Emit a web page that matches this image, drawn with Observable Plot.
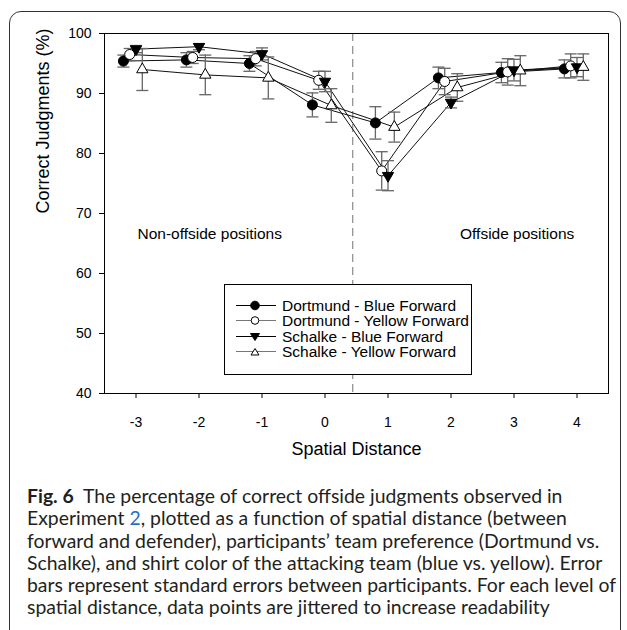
<!DOCTYPE html>
<html>
<head>
<meta charset="utf-8">
<script src="https://cdn.jsdelivr.net/npm/d3@7"></script>
<script src="https://cdn.jsdelivr.net/npm/@observablehq/plot@0.6"></script>
<style>
  body { margin: 0; background: #fff; }
  #wrap { position: relative; width: 627px; height: 630px; overflow: hidden; background: #fff; }
  #box { position: absolute; left: 9px; top: 11px; width: 610px; height: 700px; border: 1px solid #333; border-radius: 12px; }
  #chart { position: absolute; left: 0; top: 0; }
  #legend { position: absolute; left: 224px; top: 284px; width: 246px; height: 89px; border: 1px solid #000; background: #fff; font-family: "Liberation Sans", Arial, sans-serif; font-size: 15.5px; }
  .lrow { position: absolute; left: 10px; height: 15px; line-height: 15px; display: flex; align-items: center; white-space: nowrap; }
  .lrow svg { margin-right: 5px; }
  #caption { position: absolute; left: 27px; top: 485px; font-family: Lato, "Open Sans", sans-serif; font-size: 19.4px; line-height: 22.3px; color: #231f20; white-space: nowrap; }
  #caption b { font-weight: 700; }
  #caption a { color: #2a6ebb; text-decoration: none; }
</style>
</head>
<body>
<div id="wrap">
  <div id="box"></div>
  <div id="chart"></div>
  <div id="legend"></div>
  <div id="caption"></div>
</div>
<script>
// ---- data ----
const distances = [-3, -2, -1, 0, 1, 2, 3, 4];
const seriesNames = ["Dortmund - Blue Forward", "Dortmund - Yellow Forward", "Schalke - Blue Forward", "Schalke - Yellow Forward"];
const dortmundBlue   = [95.4, 95.6, 95.0, 88.1, 85.1, 92.6, 93.5, 94.1];
const dortmundYellow = [96.5, 96.0, 95.8, 92.2, 77.1, 92.0, 93.6, 94.6];
const schalkeBlue    = [97.4, 97.8, 96.6, 92.0, 76.3, 88.5, 93.9, 94.4];
const schalkeYellow  = [94.0, 93.1, 92.6, 88.0, 84.4, 91.0, 93.8, 94.4];
const dortmundBlueSE   = [1.0, 1.2, 1.3, 2.0, 2.7, 1.8, 1.7, 1.5];
const dortmundYellowSE = [1.0, 1.0, 1.2, 1.5, 3.2, 2.2, 2.2, 2.0];
const schalkeBlueSE    = [0.6, 0.5, 1.0, 1.7, 2.5, 0.9, 1.8, 1.6];
const schalkeYellowSE  = [3.5, 3.3, 3.5, 2.8, 2.5, 2.3, 2.5, 2.2];
const jitter = [-0.2, -0.1, 0, 0.1];
const xTicks = [-3, -2, -1, 0, 1, 2, 3, 4];
const yTicks = [40, 50, 60, 70, 80, 90, 100];
const dividerX = [0.44];
const regionLabels = ["Non-offside positions", "Offside positions"];
const regionX = [-1.83, 3.05];
const regionY = [66.5, 66.5];
const xLabel = "Spatial Distance";
const yLabel = "Correct Judgments (%)";

// ---- build table ----
const means = [dortmundBlue, dortmundYellow, schalkeBlue, schalkeYellow];
const ses = [dortmundBlueSE, dortmundYellowSE, schalkeBlueSE, schalkeYellowSE];
const rows = [];
seriesNames.forEach((name, s) => {
  distances.forEach((d, i) => {
    rows.push({series: name, s, x: d + jitter[s], y: means[s][i], lo: means[s][i] - ses[s][i], hi: means[s][i] + ses[s][i]});
  });
});
const regions = regionLabels.map((t, i) => ({t, x: regionX[i], y: regionY[i]}));

const capSymbol = {draw(ctx, size) { ctx.moveTo(-6, 0); ctx.lineTo(6, 0); }};
const styleOf = [
  {symbol: "circle", fill: "black", r: 5, rotate: 0},
  {symbol: "circle", fill: "white", r: 5, rotate: 0},
  {symbol: "triangle", fill: "black", r: 4.2, rotate: 180},
  {symbol: "triangle", fill: "white", r: 4.2, rotate: 0}
];

const marks = [
  Plot.ruleX(dividerX, {stroke: "#8a8a8a", strokeWidth: 1.2, strokeDasharray: "8,5"}),
  Plot.axisX({ticks: xTicks, tickSize: 5, tickPadding: 19, label: null, tickFormat: d => String(d), fontSize: 14}),
  Plot.axisY({ticks: yTicks, tickSize: 5, tickPadding: 8, label: null, fontSize: 14}),
  Plot.text([xLabel], {frameAnchor: "bottom", dy: 61, text: d => d, fontSize: 18}),
  Plot.text([yLabel], {frameAnchor: "left", dx: -61, rotate: -90, text: d => d, fontSize: 18}),
  Plot.text(regions, {x: "x", y: "y", text: "t", fontSize: 15.5}),
  Plot.line(rows, {x: "x", y: "y", z: "series", stroke: "#111", strokeWidth: 1})
];
// error bars
marks.push(Plot.ruleX(rows, {x: "x", y1: "lo", y2: "hi", stroke: "#666", strokeWidth: 1.3}));
marks.push(Plot.dot(rows, {x: "x", y: "lo", symbol: capSymbol, r: 6, stroke: "#666", strokeWidth: 1.3, fill: "none"}));
marks.push(Plot.dot(rows, {x: "x", y: "hi", symbol: capSymbol, r: 6, stroke: "#666", strokeWidth: 1.3, fill: "none"}));
// markers
styleOf.forEach((st, s) => {
  marks.push(Plot.dot(rows.filter(r => r.s === s), {x: "x", y: "y", symbol: st.symbol, r: st.r, fill: st.fill, stroke: "black", strokeWidth: 1, rotate: st.rotate}));
});
marks.push(Plot.frame({stroke: "black"}));

const chart = Plot.plot({
  width: 627,
  height: 470,
  marginLeft: 104,
  marginRight: 19,
  marginTop: 33,
  marginBottom: 77,
  x: {domain: [-3.5, 4.5]},
  y: {domain: [40, 100]},
  style: {fontFamily: "'Liberation Sans', Arial, sans-serif", fontSize: "14px", color: "black", background: "transparent", overflow: "visible"},
  marks
});
document.getElementById("chart").appendChild(chart);

// ---- legend ----
const legend = document.getElementById("legend");
const rowTops = [12.5, 28, 43.5, 58.5];
seriesNames.forEach((name, s) => {
  const st = styleOf[s];
  const row = document.createElement("div");
  row.className = "lrow";
  row.style.top = rowTops[s] + "px";
  const lineColor = st.fill === "white" ? "#777" : "#000";
  let marker;
  if (st.symbol === "circle") {
    marker = `<circle cx="20" cy="7.5" r="${s === 0 ? 4.3 : 3.8}" fill="${st.fill}" stroke="black" stroke-width="1"/>`;
  } else if (st.rotate === 180) {
    marker = `<path d="M15.5,4.5 L24.5,4.5 L20,11.5 Z" fill="black" stroke="black" stroke-width="1"/>`;
  } else {
    marker = `<path d="M16,11 L24,11 L20,4.5 Z" fill="white" stroke="black" stroke-width="1"/>`;
  }
  row.innerHTML = `<svg width="42" height="15"><line x1="1" y1="7.5" x2="41" y2="7.5" stroke="${lineColor}" stroke-width="1.2"/>${marker}</svg><span>${name}</span>`;
  legend.appendChild(row);
});

// ---- caption ----
document.getElementById("caption").innerHTML =
  `<b>Fig. 6</b>&nbsp; The percentage of correct offside judgments observed in<br>` +
  `Experiment <a>2</a>, plotted as a function of spatial distance (between<br>` +
  `forward and defender), participants’ team preference (Dortmund vs.<br>` +
  `Schalke), and shirt color of the attacking team (blue vs. yellow). Error<br>` +
  `bars represent standard errors between participants. For each level of<br>` +
  `spatial distance, data points are jittered to increase readability`;
</script>
</body>
</html>
